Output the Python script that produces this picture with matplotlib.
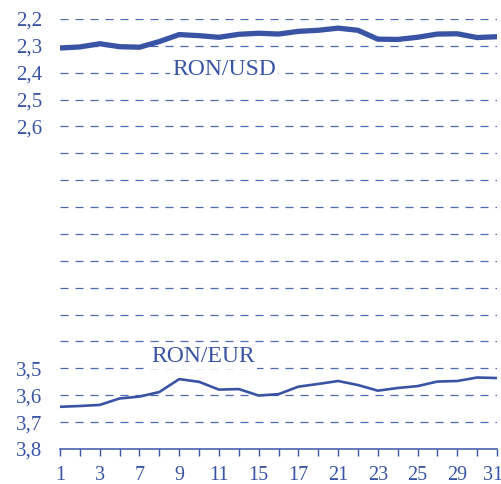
import numpy as np
import matplotlib
matplotlib.use("Agg")
import matplotlib.pyplot as plt
import matplotlib.transforms as mtransforms

# trading days of the month (only every other one is labelled)
days = [1, 2, 3, 6, 7, 8, 9, 10, 11, 14, 15, 16, 17, 18, 21, 22, 23, 24, 25, 28, 29, 30, 31]
ron_usd = [2.308, 2.304, 2.292, 2.303, 2.305, 2.284, 2.258, 2.262, 2.268, 2.257, 2.253, 2.256,
           2.246, 2.242, 2.234, 2.242, 2.275, 2.276, 2.268, 2.256, 2.255, 2.269, 2.266]
ron_eur = [3.643, 3.640, 3.636, 3.612, 3.605, 3.588, 3.540, 3.550, 3.579, 3.577, 3.601, 3.596,
           3.568, 3.558, 3.547, 3.562, 3.583, 3.573, 3.566, 3.549, 3.547, 3.534, 3.536]
grid_levels = [round(2.2 + 0.1 * k, 1) for k in range(16)]
ytick_vals = [2.2, 2.3, 2.4, 2.5, 2.6, 3.5, 3.6, 3.7, 3.8]

BLUE = "#3a54a5"
GRID = "#4f69b3"

plt.rcParams["font.family"] = ["Liberation Serif", "DejaVu Serif"]
plt.rcParams["lines.scale_dashes"] = False

fig = plt.figure(figsize=(5.02, 4.84), dpi=100)
ax = fig.add_axes([60 / 502, 35 / 484, 437 / 502, 430 / 484])

x = np.arange(len(days))

for g in grid_levels:
    if g < 3.8:
        ax.axhline(g, color=GRID, lw=0.9, ls=(0, (5.8, 5.0)), zorder=1)

ax.plot(x, ron_usd, color=BLUE, lw=3.8, solid_joinstyle="round",
        solid_capstyle="butt", zorder=3)
ax.plot(x, ron_eur, color=BLUE, lw=1.9, solid_joinstyle="round",
        solid_capstyle="butt", zorder=3)

box = dict(facecolor="white", edgecolor="none", pad=1.5)
ax.text(8.25, 2.388, "RON/USD", color=BLUE, fontsize=17,
        ha="center", va="center", zorder=2, bbox=box)
ax.text(7.22, 3.457, "RON/EUR", color=BLUE, fontsize=17,
        ha="center", va="center", zorder=2, bbox=box)

ax.set_xlim(0, len(days) - 1)
ax.set_ylim(3.8, 2.2)

ax.set_xticks(x)
ax.set_xticklabels([str(d) if i % 2 == 0 else "" for i, d in enumerate(days)])
ax.set_yticks(ytick_vals)
ax.set_yticklabels([f"{v:.1f}".replace(".", ",") for v in ytick_vals])

ax.tick_params(axis="x", direction="out", length=5, width=1, color=BLUE,
               labelcolor=BLUE, labelsize=14.5, pad=7)
ax.tick_params(axis="y", length=0, labelcolor=BLUE, labelsize=15, pad=12.5)

# keep the last day label inside the picture
last = ax.get_xticklabels()[-1]
last.set_transform(last.get_transform() +
                   mtransforms.ScaledTranslation(-4 / 100, 0, fig.dpi_scale_trans))

for s in ["top", "right", "left"]:
    ax.spines[s].set_visible(False)
ax.spines["bottom"].set_color(BLUE)
ax.spines["bottom"].set_linewidth(1.1)

fig.savefig("out.png", dpi=100)
